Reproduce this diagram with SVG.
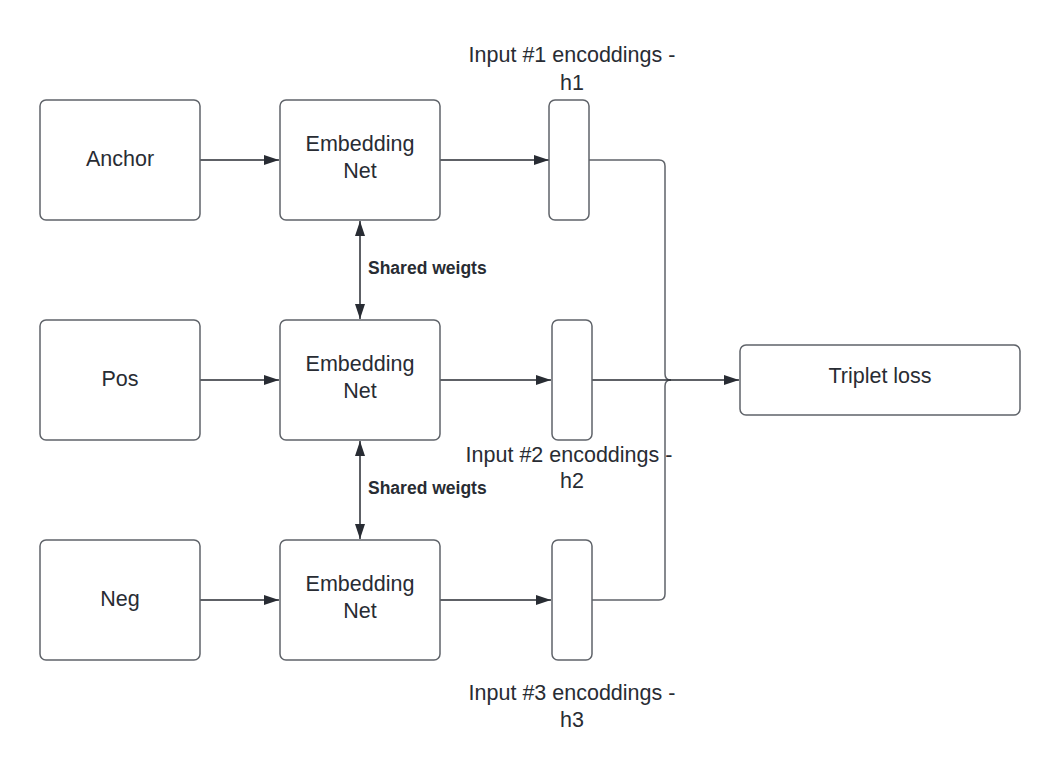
<svg xmlns="http://www.w3.org/2000/svg" width="1060" height="780" viewBox="0 0 1060 780">
<defs>
<style>
.box{fill:#ffffff;stroke:#5f6369;stroke-width:1.5}
.t{font-family:"Liberation Sans",Arial,sans-serif;font-size:21.5px;fill:#282c33;text-anchor:middle}
.b{font-family:"Liberation Sans",Arial,sans-serif;font-size:17.5px;font-weight:bold;fill:#282c33}
.c{fill:none;stroke:#282c33;stroke-width:1.5}
.c2{fill:none;stroke:#5f6369;stroke-width:1.5}
</style>
<marker id="ah" viewBox="0 0 15 10" refX="15" refY="5" markerWidth="15" markerHeight="10" markerUnits="userSpaceOnUse" orient="auto-start-reverse">
<path d="M0,0 L15,5 L0,10 Z" fill="#282c33"/>
</marker>
</defs>
<rect width="1060" height="780" fill="#ffffff"/>
<g id="connectors">
<path class="c" d="M200,160 H279" marker-end="url(#ah)"/>
<path class="c" d="M440,160 H549" marker-end="url(#ah)"/>
<path class="c" d="M200,380 H279" marker-end="url(#ah)"/>
<path class="c" d="M440,380 H551" marker-end="url(#ah)"/>
<path class="c" d="M200,600 H279" marker-end="url(#ah)"/>
<path class="c" d="M440,600 H551" marker-end="url(#ah)"/>
<path class="c" d="M360,221 V319" marker-start="url(#ah)" marker-end="url(#ah)"/>
<path class="c" d="M360,441 V539" marker-start="url(#ah)" marker-end="url(#ah)"/>
<path class="c2" d="M589,160 H659 Q665,160 665,166 V374 Q665,380 671,380"/>
<path class="c2" d="M592,600 H659 Q665,600 665,594 V386 Q665,380 671,380"/>
<path class="c" d="M592,380 H739" marker-end="url(#ah)"/>
<text class="b" x="368" y="274">Shared weigts</text>
<text class="b" x="368" y="494">Shared weigts</text>
</g>
<g id="anchor"><rect class="box" x="40" y="100" width="160" height="120" rx="6"/><text class="t" x="120" y="166">Anchor</text></g>
<g id="pos"><rect class="box" x="40" y="320" width="160" height="120" rx="6"/><text class="t" x="120" y="386">Pos</text></g>
<g id="neg"><rect class="box" x="40" y="540" width="160" height="120" rx="6"/><text class="t" x="120" y="606">Neg</text></g>
<g id="emb1"><rect class="box" x="280" y="100" width="160" height="120" rx="6"/><text class="t" x="360" y="151">Embedding</text><text class="t" x="360" y="178">Net</text></g>
<g id="emb2"><rect class="box" x="280" y="320" width="160" height="120" rx="6"/><text class="t" x="360" y="371">Embedding</text><text class="t" x="360" y="398">Net</text></g>
<g id="emb3"><rect class="box" x="280" y="540" width="160" height="120" rx="6"/><text class="t" x="360" y="591">Embedding</text><text class="t" x="360" y="618">Net</text></g>
<g id="enc1"><rect class="box" x="549" y="100" width="40" height="120" rx="6"/></g>
<g id="enc2"><rect class="box" x="552" y="320" width="40" height="120" rx="6"/></g>
<g id="enc3"><rect class="box" x="552" y="540" width="40" height="120" rx="6"/></g>
<g id="label1"><text class="t" x="572" y="62">Input #1 encoddings -</text><text class="t" x="572" y="90">h1</text></g>
<g id="label2"><text class="t" x="569" y="462">Input #2 encoddings -</text><text class="t" x="572" y="488">h2</text></g>
<g id="label3"><text class="t" x="572" y="700">Input #3 encoddings -</text><text class="t" x="572" y="727">h3</text></g>
<g id="triplet"><rect class="box" x="740" y="345" width="280" height="70" rx="6"/><text class="t" x="880" y="383">Triplet loss</text></g>
</svg>
